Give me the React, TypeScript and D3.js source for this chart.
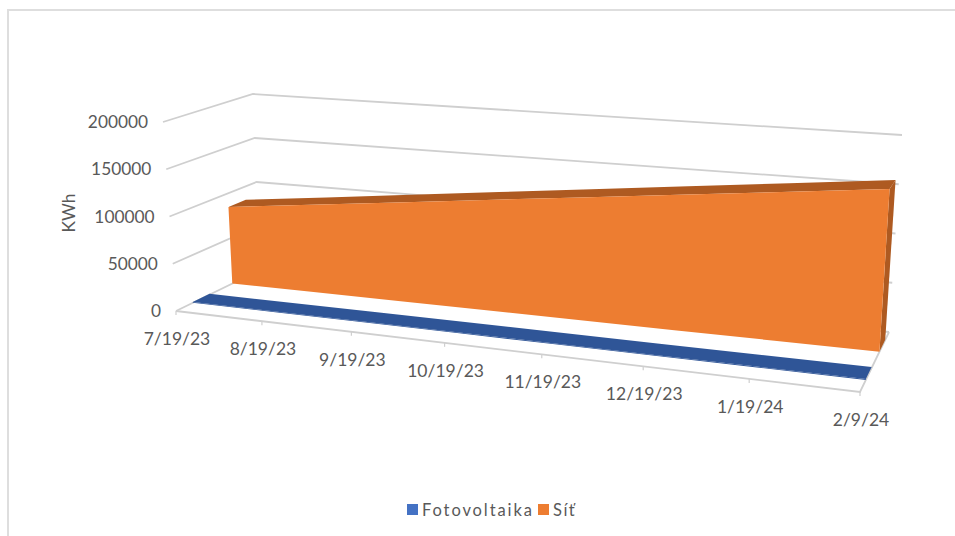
import React from "react";
import * as d3 from "d3";

const categories = ["7/19/23", "8/19/23", "9/19/23", "10/19/23", "11/19/23", "12/19/23", "1/19/24", "2/9/24"];
const fotovoltaika = [800, 850, 900, 900, 850, 800, 850, 900];
const sit = [85000, 95300, 106000, 116700, 127400, 138400, 149300, 160400];
const yTicks = [0, 50000, 100000, 150000, 200000];
const legendItems = ["Fotovoltaika", "Síť"];

const FONT = "Lato, Carlito, sans-serif";
const TEXT = "#595959";
const GRID = "#cfcfcf";

// cube corners in the picture: f/b = front/back of the floor, l/r = left/right, 0/1 = bottom/top of the value axis
const corners = {
  fl0: [176, 311], fr0: [860, 392], bl0: [260, 270], br0: [889, 332],
  fl1: [163, 122], fr1: [872, 177], bl1: [253, 94], br1: [902, 135],
};

const tScale = d3.scalePoint<string>().domain(categories).range([0, 1]);
const vScale = d3.scaleLinear().domain([0, 200000]).range([0, 1]);
const persp = 1.16;
const warp = (t: number) => t / (t + persp * (1 - t));
const mix = (a: number[], b: number[], k: number) => [a[0] + (b[0] - a[0]) * k, a[1] + (b[1] - a[1]) * k];

function project(cat: string | number, depth: number, value: number) {
  const t = warp(typeof cat === "number" ? cat : (tScale(cat) as number));
  const v = vScale(value);
  const bottom = mix(mix(corners.fl0, corners.fr0, t), mix(corners.bl0, corners.br0, t), depth);
  const top = mix(mix(corners.fl1, corners.fr1, t), mix(corners.bl1, corners.br1, t), depth);
  return mix(bottom, top, v);
}

const pathOf = d3.line<number[]>().x((d) => d[0]).y((d) => d[1]);
const closed = (pts: number[][]) => (pathOf(pts) as string) + "Z";

function ribbon(values: number[], d0: number, d1: number) {
  const frontTop = categories.map((c, i) => project(c, d0, values[i]));
  const backTop = categories.map((c, i) => project(c, d1, values[i]));
  const frontBottom = categories.map((c) => project(c, d0, 0));
  const last = categories[categories.length - 1];
  const n = values[values.length - 1];
  return {
    front: closed([...frontTop, ...frontBottom.slice().reverse()]),
    top: closed([...frontTop, ...backTop.slice().reverse()]),
    side: closed([project(last, d0, 0), project(last, d0, n), project(last, d1, n), project(last, d1, 0)]),
  };
}

const blue = ribbon(fotovoltaika, 0.2, 0.4);
const orange = ribbon(sit, 0.67, 0.87);

export default function App() {
  return (
    <svg width={955} height={536} style={{ position: "absolute", left: 0, top: 0, background: "#fff" }} fontFamily={FONT}>
      <path d="M8 536V10H955" fill="none" stroke="#dedede" strokeWidth={2} />

      {yTicks.map((v) => {
        const a = project(0, 0, v), b = project(0, 1, v), c = project(1, 1, v);
        return <polyline key={v} points={[a, b, c].map((p) => p.join(",")).join(" ")} fill="none" stroke={GRID} strokeWidth={1.8} />;
      })}
      {(() => {
        const a = project(0, 0, 0), b = project(1, 0, 0), c = project(1, 1, 0);
        return <polyline points={[a, b, c].map((p) => p.join(",")).join(" ")} fill="none" stroke={GRID} strokeWidth={1.8} />;
      })()}
      {categories.map((c) => {
        const p = project(c, 0, 0);
        return <line key={c} x1={p[0]} y1={p[1]} x2={p[0]} y2={p[1] + 4} stroke={GRID} strokeWidth={1.2} />;
      })}

      <path d={blue.front} fill="#2f5597" />
      <path d={blue.top} fill="#2f5597" />
      <path d={orange.side} fill="#ae5a21" />
      <path d={orange.top} fill="#ae5a21" />
      <path d={orange.front} fill="#ed7d31" />

      {yTicks.map((v) => {
        const p = project(0, 0, v);
        return (
          <text key={v} x={p[0] - 15} y={p[1] + 6} textAnchor="end" fontSize={17.3} fill={TEXT}>
            {v}
          </text>
        );
      })}
      {categories.map((c) => {
        const p = project(c, 0, 0);
        return (
          <text key={c} x={p[0] + 1} y={p[1] + 34} textAnchor="middle" fontSize={17.5} fill={TEXT}>
            {c}
          </text>
        );
      })}
      <text transform="translate(75,213) rotate(-90)" textAnchor="middle" fontSize={17.3} fill={TEXT}>
        KWh
      </text>

      <rect x={407} y={504} width={11} height={11} fill="#4472c4" />
      <text x={422} y={516} fontSize={16.5} letterSpacing={1.9} fill={TEXT}>{legendItems[0]}</text>
      <rect x={538} y={504} width={11} height={11} fill="#ed7d31" />
      <text x={553} y={516} fontSize={16.5} letterSpacing={1.5} fill={TEXT}>{legendItems[1]}</text>
    </svg>
  );
}
